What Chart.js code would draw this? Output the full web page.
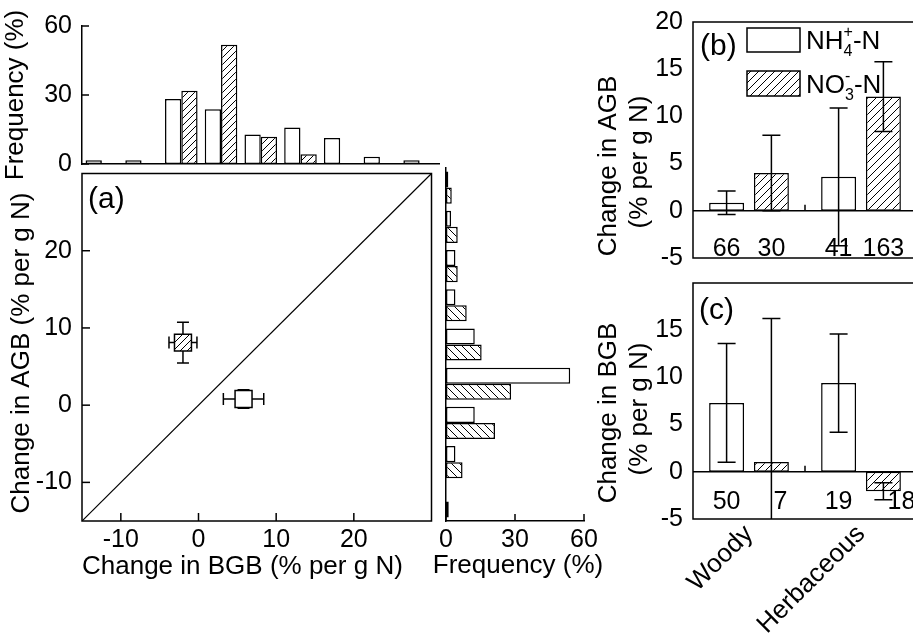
<!DOCTYPE html>
<html>
<head>
<meta charset="utf-8">
<script src="https://cdn.jsdelivr.net/npm/chart.js@4.4.1/dist/chart.umd.min.js"></script>
<style>
    html, body { margin: 0; padding: 0; background: #fff; }
    body { width: 913px; height: 635px; overflow: hidden; position: relative; }
    .panel { position: absolute; }
</style>
</head>
<body>
<canvas class="panel" id="histTop" width="450" height="190" style="left:0;top:0"></canvas>
<canvas class="panel" id="scatterA" width="445" height="475" style="left:0;top:160px"></canvas>
<canvas class="panel" id="histRight" width="200" height="475" style="left:420px;top:160px"></canvas>
<canvas class="panel" id="barsB" width="340" height="275" style="left:590px;top:0"></canvas>
<canvas class="panel" id="barsC" width="340" height="365" style="left:590px;top:270px"></canvas>
<script>
// histogram bins (5 % per g N wide), named by their lower edge
const binStarts = [-15, -10, -5, 0, 5, 10, 15, 20, 25];
const bgbFreqNH4 = [1.6, 1.6, 28.3, 23.8, 12.8, 15.9, 11.3, 3.1, 1.6];
const bgbFreqNO3 = [0, 0, 31.8, 51.9, 11.9, 4.2, 0, 0, 0];
const agbFreqNH4 = [0, 4.1, 12.5, 54.0, 12.5, 4.1, 4.1, 2.2, 1.0];
const agbFreqNO3 = [1.2, 7.2, 21.3, 28.3, 15.5, 9.0, 5.1, 5.1, 2.5];
const freqTicks = [0, 30, 60];

// panel a: mean change of each N form
const formNames = ['NH4+-N', 'NO3--N'];
const meanBGB = [5.8, -2.0];
const errBGB = [2.6, 1.8];
const meanAGB = [0.8, 8.1];
const errAGB = [1.2, 2.65];
const changeRange = [-15, 30];
const changeTicks = [-10, 0, 10, 20];

// panels b and c
const plantTypes = ['Woody', 'Herbaceous'];
const agbNH4 = [0.85, 3.6];
const agbNH4Err = [1.25, 7.3];
const agbNO3 = [4.0, 12.1];
const agbNO3Err = [4.0, 3.7];
const agbCountNH4 = [66, 41];
const agbCountNO3 = [30, 163];
const bgbNH4 = [7.3, 9.4];
const bgbNH4Err = [6.3, 5.2];
const bgbNO3 = [1.05, -2.05];
const bgbNO3Err = [15.2, 0.9];
const bgbCountNH4 = [50, 19];
const bgbCountNO3 = [7, 18];
const ticksB = [-5, 0, 5, 10, 15, 20];
const ticksC = [-5, 0, 5, 10, 15];

// legend text: plain part, [subscript, superscript], plain part
const legendNH4 = [['NH'], ['4', '+'], ['-N']];
const legendNO3 = [['NO'], ['3', '-'], ['-N']];

const FAM = "'Liberation Sans', Arial, sans-serif";
Chart.defaults.font.family = FAM;
Chart.defaults.font.size = 25;
Chart.defaults.color = '#000';
Chart.defaults.animation = false;
Chart.defaults.plugins.legend.display = false;
Chart.defaults.plugins.tooltip.enabled = false;

function hatch(dir, gap) {
    const c = document.createElement('canvas');
    c.width = gap;
    c.height = gap;
    const g = c.getContext('2d');
    g.fillStyle = '#fff';
    g.fillRect(0, 0, gap, gap);
    g.strokeStyle = '#000';
    g.lineWidth = 1;
    g.beginPath();
    for (const k of [-gap, 0, gap]) {
        if (dir === '/') { g.moveTo(k, gap); g.lineTo(k + gap, 0); }
        else { g.moveTo(k, 0); g.lineTo(k + gap, gap); }
    }
    g.stroke();
    return g.createPattern(c, 'repeat');
}

// fixed axis boxes, no extra room for overhanging labels
function noPad(sc) {
    sc.paddingTop = 0;
    sc.paddingBottom = 0;
    sc.paddingLeft = 0;
    sc.paddingRight = 0;
}
const fixW = w => sc => { sc.width = w; noPad(sc); };
const fixH = h => sc => { sc.height = h; noPad(sc); };
const useTicks = vals => sc => { sc.ticks = vals.map(v => ({ value: v })); };

// frame, inward ticks, zero line and group separator
const deco = {
    id: 'deco',
    beforeDatasetsDraw(chart, args, o) {
        if (!o.zero) return;
        const ctx = chart.ctx, a = chart.chartArea;
        const y0 = chart.scales.y.getPixelForValue(0);
        const xs = chart.scales.x.getPixelForValue(0.5);
        ctx.save();
        ctx.strokeStyle = '#000';
        ctx.lineWidth = 1.5;
        ctx.beginPath();
        ctx.moveTo(a.left, y0);
        ctx.lineTo(a.right, y0);
        ctx.moveTo(xs, y0);
        ctx.lineTo(xs, y0 - 6);
        ctx.stroke();
        ctx.restore();
    },
    afterDraw(chart, args, o) {
        const ctx = chart.ctx, a = chart.chartArea;
        ctx.save();
        ctx.strokeStyle = '#000';
        ctx.lineWidth = 1.5;
        (o.ticks || []).forEach(t => {
            const sc = chart.scales[t.axis];
            sc.ticks.forEach(tk => {
                const p = sc.getPixelForValue(tk.value);
                ctx.beginPath();
                if (sc.isHorizontal()) { ctx.moveTo(p, a.bottom); ctx.lineTo(p, a.bottom - t.len); }
                else { ctx.moveTo(a.left, p); ctx.lineTo(a.left + t.len, p); }
                ctx.stroke();
            });
        });
        if (o.box) ctx.strokeRect(a.left, a.top, a.right - a.left, a.bottom - a.top);
        ctx.restore();
    }
};

function drawErrors(chart, o) {
    const ctx = chart.ctx, a = chart.chartArea;
    const xs = chart.scales.x, ys = chart.scales.y;
    ctx.save();
    ctx.beginPath();
    ctx.rect(a.left, a.top, a.right - a.left, a.bottom - a.top);
    ctx.clip();
    ctx.strokeStyle = '#000';
    ctx.lineWidth = 1.5;
    o.sets.forEach((set, i) => {
        if (!set) return;
        const meta = chart.getDatasetMeta(i);
        chart.data.datasets[i].data.forEach((v, j) => {
            const el = meta.data[j];
            const yv = typeof v === 'object' ? v.y : v;
            const h = o.cap / 2;
            if (set.y) {
                const y1 = ys.getPixelForValue(yv + set.y[j]), y2 = ys.getPixelForValue(yv - set.y[j]);
                ctx.beginPath();
                ctx.moveTo(el.x, y1); ctx.lineTo(el.x, y2);
                ctx.moveTo(el.x - h, y1); ctx.lineTo(el.x + h, y1);
                ctx.moveTo(el.x - h, y2); ctx.lineTo(el.x + h, y2);
                ctx.stroke();
            }
            if (set.x) {
                const x1 = xs.getPixelForValue(v.x - set.x[j]), x2 = xs.getPixelForValue(v.x + set.x[j]);
                ctx.beginPath();
                ctx.moveTo(x1, el.y); ctx.lineTo(x2, el.y);
                ctx.moveTo(x1, el.y - h); ctx.lineTo(x1, el.y + h);
                ctx.moveTo(x2, el.y - h); ctx.lineTo(x2, el.y + h);
                ctx.stroke();
            }
        });
    });
    ctx.restore();
}

const errorBars = {
    id: 'errorBars',
    beforeDatasetsDraw(chart, args, o) { if (o.sets && o.under) drawErrors(chart, o); },
    afterDatasetsDraw(chart, args, o) { if (o.sets && !o.under) drawErrors(chart, o); }
};

function richText(ctx, parts, x, y, size) {
    parts.forEach(p => {
        if (p.length === 1) {
            ctx.font = size + 'px ' + FAM;
            ctx.fillText(p[0], x, y);
            x += ctx.measureText(p[0]).width;
        } else {
            ctx.font = Math.round(size * 0.62) + 'px ' + FAM;
            ctx.fillText(p[0], x, y + size * 0.28);
            ctx.fillText(p[1], x, y - size * 0.45);
            x += Math.max(ctx.measureText(p[0]).width, ctx.measureText(p[1]).width);
        }
    });
}

// sample sizes, panel letters, free captions and legend
const notes = {
    id: 'notes',
    afterDraw(chart, args, o) {
        const ctx = chart.ctx;
        ctx.save();
        ctx.fillStyle = '#000';
        if (o.counts) {
            const y = chart.scales.y.getPixelForValue(o.counts.at);
            ctx.font = '25px ' + FAM;
            ctx.textAlign = 'center';
            ctx.textBaseline = 'middle';
            o.counts.values.forEach((vals, i) => {
                const meta = chart.getDatasetMeta(i);
                vals.forEach((n, j) => {
                    const dx = o.counts.shift ? o.counts.shift[i][j] : 0;
                    ctx.fillText(String(n), meta.data[j].x + dx, y);
                });
            });
        }
        if (o.letter) {
            ctx.font = '30px ' + FAM;
            ctx.textAlign = 'left';
            ctx.textBaseline = 'middle';
            ctx.fillText(o.letter.text, o.letter.x, o.letter.y);
        }
        (o.captions || []).forEach(c => {
            ctx.save();
            ctx.font = '26px ' + FAM;
            ctx.textAlign = 'center';
            ctx.textBaseline = 'middle';
            ctx.translate(c.x, c.y);
            if (c.rot) ctx.rotate(-Math.PI / 2);
            ctx.fillText(c.text, 0, 0);
            ctx.restore();
        });
        (o.legend || []).forEach(it => {
            const ds = chart.data.datasets[it.dataset];
            ctx.fillStyle = ds.backgroundColor;
            ctx.fillRect(it.x, it.y, it.w, it.h);
            ctx.strokeStyle = '#000';
            ctx.lineWidth = 1.5;
            ctx.strokeRect(it.x, it.y, it.w, it.h);
            ctx.fillStyle = '#000';
            ctx.textAlign = 'left';
            ctx.textBaseline = 'alphabetic';
            richText(ctx, it.parts, it.x + it.w + 6, it.y + it.h - 3, 26);
        });
        ctx.restore();
    }
};

const openBar = { backgroundColor: '#fff', borderColor: '#000', borderWidth: 1.5, borderSkipped: false };
const noAxisGrid = { display: false, drawTicks: false };

// top histogram: BGB frequency
new Chart(document.getElementById('histTop'), {
    type: 'bar',
    data: {
        labels: binStarts,
        datasets: [
            { ...openBar, label: formNames[0], data: bgbFreqNH4, categoryPercentage: 0.82, barPercentage: 1 },
            { ...openBar, label: formNames[1], data: bgbFreqNO3, backgroundColor: hatch('/', 7), categoryPercentage: 0.82, barPercentage: 1 }
        ]
    },
    options: {
        responsive: false,
        layout: { padding: { top: 26, right: 10.5, left: 0, bottom: 0 } },
        scales: {
            x: { grid: noAxisGrid, ticks: { display: false }, border: { color: '#000', width: 1.5 }, afterFit: fixH(26) },
            y: {
                min: 0, max: 60, afterBuildTicks: useTicks(freqTicks),
                grid: noAxisGrid, ticks: { padding: 10 },
                border: { color: '#000', width: 1.5 },
                title: { display: true, text: 'Frequency (%)', font: { size: 26 }, padding: { top: 0, bottom: 0 } },
                afterFit: fixW(82)
            }
        },
        plugins: { deco: { ticks: [{ axis: 'y', len: 7 }] } }
    },
    plugins: [deco]
});

// panel a: AGB vs BGB change
new Chart(document.getElementById('scatterA'), {
    type: 'scatter',
    data: {
        datasets: [
            {
                type: 'line', label: '1:1',
                data: [{ x: changeRange[0], y: changeRange[0] }, { x: changeRange[1], y: changeRange[1] }],
                borderColor: '#000', borderWidth: 1.2, pointRadius: 0
            },
            {
                label: formNames[0], data: [{ x: meanBGB[0], y: meanAGB[0] }],
                pointStyle: 'rect', pointRadius: 12, backgroundColor: '#fff', borderColor: '#000', borderWidth: 1.5
            },
            {
                label: formNames[1], data: [{ x: meanBGB[1], y: meanAGB[1] }],
                pointStyle: 'rect', pointRadius: 12, backgroundColor: hatch('/', 7), borderColor: '#000', borderWidth: 1.5
            }
        ]
    },
    options: {
        responsive: false,
        layout: { padding: { top: 11, right: 6, left: 0, bottom: 0 } },
        scales: {
            x: {
                type: 'linear', min: changeRange[0], max: changeRange[1], afterBuildTicks: useTicks(changeTicks),
                grid: noAxisGrid, ticks: { padding: 4 }, border: { display: false },
                title: { display: true, text: 'Change in BGB (% per g N)', align: 'start', font: { size: 26 }, padding: { top: 0, bottom: 53 } },
                afterFit: fixH(114)
            },
            y: {
                min: changeRange[0], max: changeRange[1], afterBuildTicks: useTicks(changeTicks),
                grid: noAxisGrid, ticks: { padding: 10 }, border: { display: false },
                afterFit: fixW(82)
            }
        },
        plugins: {
            deco: { box: true, ticks: [{ axis: 'x', len: 8 }, { axis: 'y', len: 8 }] },
            errorBars: { under: true, cap: 12, sets: [null, { x: [errBGB[0]], y: [errAGB[0]] }, { x: [errBGB[1]], y: [errAGB[1]] }] },
            notes: {
                letter: { text: '(a)', x: 88, y: 40 },
                captions: [{ text: 'Change in AGB (% per g N)', x: 22, y: 193, rot: true }]
            }
        }
    },
    plugins: [deco, errorBars, notes]
});

// right histogram: AGB frequency
new Chart(document.getElementById('histRight'), {
    type: 'bar',
    data: {
        labels: binStarts,
        datasets: [
            { ...openBar, label: formNames[0], data: agbFreqNH4, categoryPercentage: 0.82, barPercentage: 1 },
            { ...openBar, label: formNames[1], data: agbFreqNO3, backgroundColor: hatch('\\', 8), categoryPercentage: 0.82, barPercentage: 1 }
        ]
    },
    options: {
        indexAxis: 'y',
        responsive: false,
        layout: { padding: { top: 8, right: 36, left: 0, bottom: 0 } },
        scales: {
            y: { reverse: true, grid: noAxisGrid, ticks: { display: false }, border: { color: '#000', width: 1.5 }, afterFit: fixW(26) },
            x: {
                min: 0, max: 60, afterBuildTicks: useTicks(freqTicks),
                grid: noAxisGrid, ticks: { padding: 4 }, border: { color: '#000', width: 1.5 },
                afterFit: fixH(114)
            }
        },
        plugins: {
            deco: { ticks: [{ axis: 'x', len: 7 }] },
            notes: { captions: [{ text: 'Frequency (%)', x: 98, y: 406 }] }
        }
    },
    plugins: [deco, notes]
});

// panel b: AGB by plant type
new Chart(document.getElementById('barsB'), {
    type: 'bar',
    data: {
        labels: plantTypes,
        datasets: [
            { ...openBar, label: formNames[0], data: agbNH4, categoryPercentage: 0.8, barPercentage: 0.78 },
            { ...openBar, label: formNames[1], data: agbNO3, backgroundColor: hatch('/', 8), categoryPercentage: 0.8, barPercentage: 0.78 }
        ]
    },
    options: {
        responsive: false,
        layout: { padding: { top: 22, right: 13, left: 0, bottom: 0 } },
        scales: {
            x: { grid: noAxisGrid, ticks: { display: false }, border: { display: false }, afterFit: fixH(17) },
            y: {
                min: -5, max: 20, afterBuildTicks: useTicks(ticksB),
                grid: noAxisGrid, ticks: { padding: 10 }, border: { display: false },
                afterFit: fixW(103)
            }
        },
        plugins: {
            deco: { box: true, zero: true },
            errorBars: { under: false, cap: 18, sets: [{ y: agbNH4Err }, { y: agbNO3Err }] },
            notes: {
                counts: { at: -4.1, values: [agbCountNH4, agbCountNO3] },
                letter: { text: '(b)', x: 110, y: 47 },
                captions: [
                    { text: 'Change in AGB', x: 19, y: 166, rot: true },
                    { text: '(% per g N)', x: 50, y: 162, rot: true }
                ],
                legend: [
                    { dataset: 0, parts: legendNH4, x: 157, y: 28, w: 53, h: 24 },
                    { dataset: 1, parts: legendNO3, x: 157, y: 71, w: 53, h: 25 }
                ]
            }
        }
    },
    plugins: [deco, errorBars, notes]
});

// panel c: BGB by plant type
new Chart(document.getElementById('barsC'), {
    type: 'bar',
    data: {
        labels: plantTypes,
        datasets: [
            { ...openBar, label: formNames[0], data: bgbNH4, categoryPercentage: 0.8, barPercentage: 0.78 },
            { ...openBar, label: formNames[1], data: bgbNO3, backgroundColor: hatch('/', 8), categoryPercentage: 0.8, barPercentage: 0.78 }
        ]
    },
    options: {
        responsive: false,
        layout: { padding: { top: 13, right: 13, left: 0, bottom: 0 } },
        scales: {
            x: {
                grid: noAxisGrid, border: { display: false },
                ticks: { minRotation: 45, maxRotation: 45, padding: 0, font: { size: 26 } },
                afterFit: fixH(116)
            },
            y: {
                min: -5, max: 20, afterBuildTicks: useTicks(ticksC),
                grid: noAxisGrid, ticks: { padding: 10 }, border: { display: false },
                afterFit: fixW(103)
            }
        },
        plugins: {
            deco: { box: true, zero: true },
            errorBars: { under: false, cap: 18, sets: [{ y: bgbNH4Err }, { y: bgbNO3Err }] },
            notes: {
                counts: { at: -3.2, values: [bgbCountNH4, bgbCountNO3], shift: [[0, 0], [9, 18]] },
                letter: { text: '(c)', x: 109, y: 41 },
                captions: [
                    { text: 'Change in BGB', x: 19, y: 143, rot: true },
                    { text: '(% per g N)', x: 50, y: 139, rot: true }
                ]
            }
        }
    },
    plugins: [deco, errorBars, notes]
});
</script>
</body>
</html>
